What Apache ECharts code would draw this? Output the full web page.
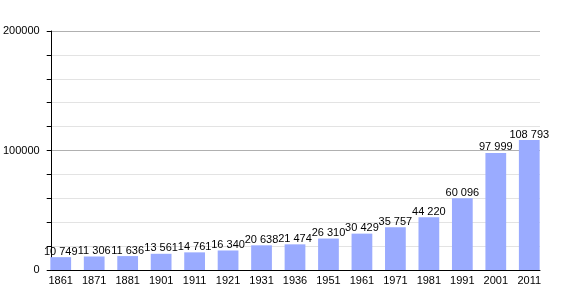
<!DOCTYPE html>
<html><head><meta charset="utf-8">
<script src="https://cdn.jsdelivr.net/npm/echarts@6/dist/echarts.min.js"></script>
<style>html,body{margin:0;padding:0;background:#fff}#c{width:570px;height:300px}</style>
</head><body><div id="c"></div>
<script>
const years = ['1861','1871','1881','1901','1911','1921','1931','1936','1951','1961','1971','1981','1991','2001','2011'];
const population = [10749,11306,11636,13561,14761,16340,20638,21474,26310,30429,35757,44220,60096,97999,108793];
const yTicks = [0,100000,200000];

const chart = echarts.init(document.getElementById('c'), null, {renderer:'canvas'});
const fmt = v => String(v).replace(/\B(?=(\d{3})+(?!\d))/g, ' ');
const font = 'Liberation Sans, Arial, sans-serif';
chart.setOption({
  animation:false,
  grid:[
    {left:44,right:24,top:31,bottom:30,containLabel:false},
    {left:51,right:30,top:31,bottom:30,containLabel:false}
  ],
  xAxis:[
    {type:'category',gridIndex:0,data:years,
      axisLine:{show:false},axisTick:{show:false},splitLine:{show:false},
      axisLabel:{color:'#000',fontFamily:font,fontSize:11,margin:5}},
    {type:'value',gridIndex:1,min:0,max:1,
      axisLine:{show:true,onZero:false,lineStyle:{color:'#000',width:1}},
      axisTick:{show:false},axisLabel:{show:false},splitLine:{show:false}}
  ],
  yAxis:[
    {type:'value',gridIndex:0,min:0,max:200000,show:false,splitLine:{show:false}},
    {type:'value',gridIndex:1,min:0,max:200000,interval:20000,
      axisLine:{show:true,lineStyle:{color:'#000',width:1}},
      axisTick:{show:true,inside:false,length:5,lineStyle:{color:'#000'}},
      axisLabel:{color:'#000',fontFamily:font,fontSize:11,margin:12,
        formatter:v=>yTicks.includes(v)?String(v):''},
      splitLine:{show:true,lineStyle:{color:['#b0b0b0','#e3e3e3','#e3e3e3','#e3e3e3','#e3e3e3'],width:1}}}
  ],
  series:[{type:'bar',xAxisIndex:0,yAxisIndex:0,data:population,barWidth:'62%',
    itemStyle:{color:'#9aabff'},z:3,
    label:{show:true,position:'top',distance:0,color:'#000',fontFamily:font,fontSize:11,
      formatter:p=>fmt(p.value)}}]
});
</script></body></html>
